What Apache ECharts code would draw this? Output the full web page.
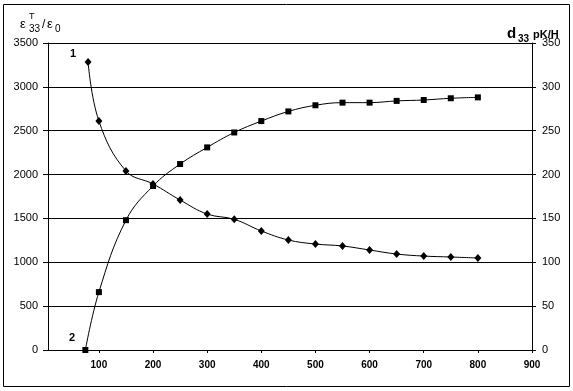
<!DOCTYPE html>
<html><head><meta charset="utf-8">
<script src="https://cdn.jsdelivr.net/npm/echarts@6/dist/echarts.min.js"></script>
<style>html,body{margin:0;padding:0;background:#fff}#c{width:573px;height:391px}</style>
</head><body><div id="c"></div>
<script>
// Series 1: epsilon^T33/epsilon0 (left axis), diamonds
const xEps = [80,100,150,200,250,300,350,400,450,500,550,600,650,700,750,800];
const eps  = [3283,2611,2041,1893,1710,1550,1490,1357,1254,1208,1186,1140,1094,1071,1060,1049];
// Series 2: d33 pK/H (right axis), squares
const xD33 = [75,100,150,200,250,300,350,400,450,500,550,600,650,700,750,800];
const d33  = [0,66,148,187,212,231,248,261,272,279,282,282,284,285,287,288];
const xTicks = [100,200,300,400,500,600,700,800,900];
const leftTicks = [0,500,1000,1500,2000,2500,3000,3500];
const rightTicks = [0,50,100,150,200,250,300,350];

const FF = '"Liberation Sans", Arial, sans-serif';
const chart = echarts.init(document.getElementById('c'), null, {renderer:'canvas'});
chart.setOption({
  animation:false,
  backgroundColor:'#fff',
  grid:{left:48,right:41,top:43,bottom:41,containLabel:false},
  xAxis:{type:'value',min:6,max:900,
    axisLine:{show:true,lineStyle:{color:'#000',width:1}},
    axisTick:{show:true,length:3,customValues:xTicks,lineStyle:{color:'#000'}},
    axisLabel:{customValues:xTicks,margin:10,color:'#000',fontFamily:FF,fontSize:10,fontWeight:'bold',formatter:v=>String(v)},
    splitLine:{show:false}},
  yAxis:[
    {type:'value',min:0,max:3500,interval:500,position:'left',
     axisLine:{show:true,lineStyle:{color:'#000'}},
     axisTick:{show:true,length:5,lineStyle:{color:'#000'}},
     axisLabel:{margin:10,color:'#000',fontFamily:FF,fontSize:11,formatter:v=>String(v)},
     splitLine:{show:true,lineStyle:{color:'#000',width:1}}},
    {type:'value',min:0,max:350,interval:50,position:'right',
     axisLine:{show:true,lineStyle:{color:'#000'}},
     axisTick:{show:true,length:4,lineStyle:{color:'#000'}},
     axisLabel:{margin:10,color:'#000',fontFamily:FF,fontSize:11,formatter:v=>String(v)},
     splitLine:{show:false}}
  ],
  series:[
    {type:'line',yAxisIndex:0,data:xEps.map((x,i)=>[x,eps[i]]),smooth:0.4,
     symbol:'diamond',symbolSize:[7,8],itemStyle:{color:'#000'},
     lineStyle:{color:'#000',width:1}},
    {type:'line',yAxisIndex:1,data:xD33.map((x,i)=>[x,d33[i]]),smooth:0.4,
     symbol:'rect',symbolSize:6,itemStyle:{color:'#000'},
     lineStyle:{color:'#000',width:1}}
  ],
  graphic:[
    {type:'rect',shape:{x:3.5,y:4.5,width:566,height:382},style:{fill:'none',stroke:'#000',lineWidth:1},z:-1},
    {type:'text',left:20,top:18,style:{text:'ε',fontFamily:FF,fontSize:13,fill:'#000'}},
    {type:'text',left:29,top:12,style:{text:'T',fontFamily:FF,fontSize:9,fill:'#000'}},
    {type:'text',left:29,top:24,style:{text:'33',fontFamily:FF,fontSize:10,fill:'#000'}},
    {type:'text',left:42,top:19,style:{text:'/',fontFamily:FF,fontSize:12,fill:'#000'}},
    {type:'text',left:47,top:18,style:{text:'ε',fontFamily:FF,fontSize:13,fill:'#000'}},
    {type:'text',left:55,top:24,style:{text:'0',fontFamily:FF,fontSize:10,fill:'#000'}},
    {type:'text',left:507,top:26,style:{text:'d',fontFamily:FF,fontSize:15,fontWeight:'bold',fill:'#000'}},
    {type:'text',left:518,top:34,style:{text:'33',fontFamily:FF,fontSize:10,fontWeight:'bold',fill:'#000'}},
    {type:'text',left:533,top:29,style:{text:'pK/H',fontFamily:FF,fontSize:11,fontWeight:'bold',fill:'#000'}},
    {type:'text',left:70,top:48,style:{text:'1',fontFamily:FF,fontSize:11,fontWeight:'bold',fill:'#000'}},
    {type:'text',left:69,top:332,style:{text:'2',fontFamily:FF,fontSize:11,fontWeight:'bold',fill:'#000'}}
  ]
});
</script></body></html>
